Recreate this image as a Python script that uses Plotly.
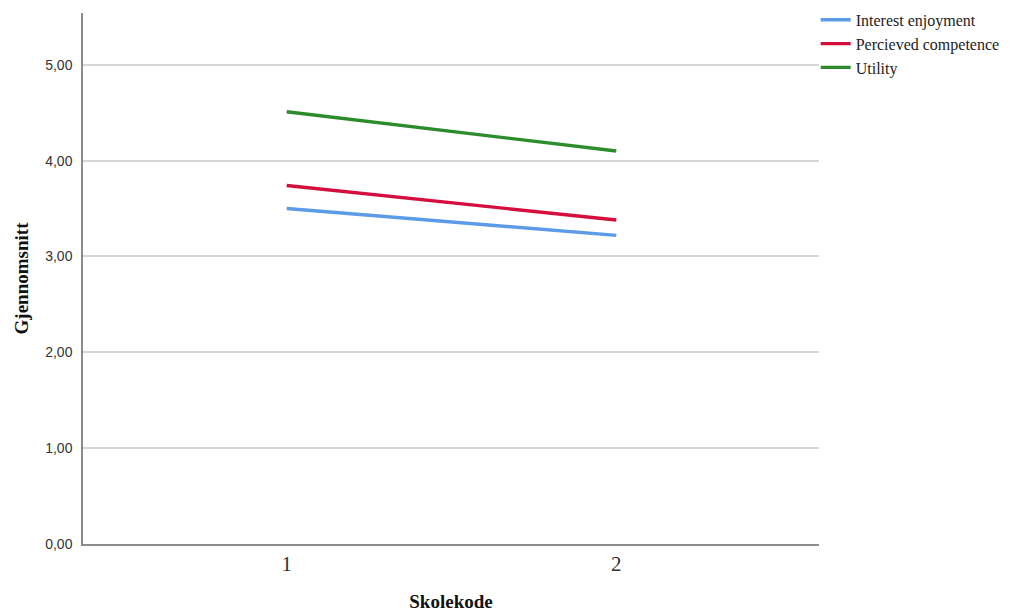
import plotly.graph_objects as go

categories = [1, 2]
tick_labels = ["1", "2"]
series_names = ["Interest enjoyment", "Percieved competence", "Utility"]
interest_enjoyment = [3.50, 3.22]
percieved_competence = [3.74, 3.38]
utility = [4.51, 4.10]
y_ticks = [0, 1, 2, 3, 4, 5]

colors = ["#5b9be8", "#d50f3d", "#2c8c2c"]
values = [interest_enjoyment, percieved_competence, utility]

fig = go.Figure()
for name, vals, col in zip(series_names, values, colors):
    fig.add_trace(go.Scatter(x=categories, y=vals, mode="lines", name=name,
                             line=dict(color=col, width=3.4)))

fig.update_layout(
    width=1016, height=612,
    margin=dict(l=83, r=197, t=13, b=68, autoexpand=False),
    paper_bgcolor="white", plot_bgcolor="white",
    separators=", ",
    showlegend=True,
    legend=dict(x=0.9955, y=1.019, xanchor="left", yanchor="top",
                font=dict(family="Liberation Serif", size=16, color="#222"),
                tracegroupgap=0, itemwidth=30, bgcolor="rgba(0,0,0,0)"),
    xaxis=dict(range=[0.382, 2.615], tickvals=categories, ticktext=tick_labels,
               showgrid=False, zeroline=False, showline=True, linecolor="#8c8c8c", linewidth=1.5,
               ticks="", automargin=False,
               tickfont=dict(family="Liberation Serif", size=21, color="#333"),
               title=dict(text="<b>Skolekode</b>", standoff=27,
                          font=dict(family="Liberation Serif", size=19, color="#111"))),
    yaxis=dict(range=[0, 5.54], tickvals=y_ticks, tickformat=".2f",
               showgrid=True, gridcolor="#d6d6d6", gridwidth=1.5, zeroline=False,
               showline=True, linecolor="#8c8c8c", linewidth=1.5, ticks="",
               ticklabelstandoff=6, automargin=False,
               tickfont=dict(family="Liberation Sans", size=14, color="#333"),
               title=dict(text="<b>Gjennomsnitt</b>", standoff=12,
                          font=dict(family="Liberation Serif", size=19, color="#111"))),
)

fig.write_html("out.html", config={"displayModeBar": False},
               post_script="document.body.style.margin='0';")
